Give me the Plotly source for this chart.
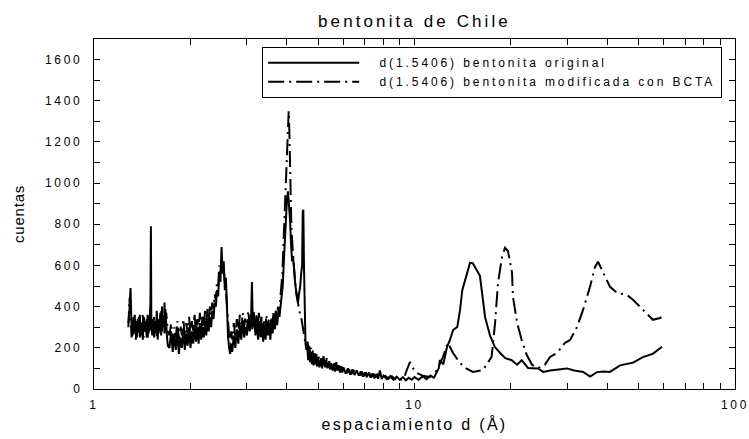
import plotly.graph_objects as go

# ---- data (d-spacing in Å, counts) ----
d_original = [
    1.28, 1.29, 1.30, 1.31, 1.32, 1.33, 1.34, 1.35, 1.36, 1.37, 1.38, 1.39, 1.40, 1.41, 1.42,
    1.43, 1.44, 1.45, 1.46, 1.47, 1.48, 1.49, 1.50, 1.505, 1.51, 1.52, 1.53, 1.54, 1.55, 1.56,
    1.57, 1.58, 1.59, 1.60, 1.61, 1.62, 1.63, 1.64, 1.65, 1.66, 1.67, 1.68, 1.69, 1.70,
    1.72, 1.74, 1.76, 1.78, 1.80, 1.82, 1.84, 1.86, 1.88, 1.90, 1.92, 1.94, 1.96, 1.98, 2.00,
    2.02, 2.04, 2.06, 2.08, 2.10, 2.12, 2.14, 2.16, 2.18, 2.20, 2.22, 2.24, 2.26, 2.28, 2.30,
    2.32, 2.34, 2.36, 2.38, 2.40, 2.42, 2.44, 2.46, 2.48, 2.50, 2.52, 2.54, 2.56, 2.58, 2.60,
    2.62, 2.64, 2.66, 2.68, 2.70,
    2.73, 2.76, 2.79, 2.82, 2.85, 2.88, 2.91, 2.94, 2.97, 3.00, 3.03, 3.06, 3.09, 3.11, 3.13,
    3.16, 3.19, 3.22, 3.25, 3.28, 3.31, 3.34, 3.37, 3.40, 3.43, 3.46, 3.49, 3.52, 3.55, 3.58,
    3.61, 3.64, 3.67, 3.70, 3.73, 3.76, 3.79, 3.82,
    3.85, 3.88, 3.92, 3.96, 4.00, 4.03, 4.06, 4.09, 4.12, 4.15, 4.18, 4.21, 4.24, 4.27, 4.30,
    4.33, 4.36, 4.40, 4.43, 4.46, 4.48, 4.50, 4.52, 4.54, 4.57, 4.60,
    4.63, 4.66, 4.69, 4.72, 4.75, 4.78, 4.81, 4.84, 4.87, 4.90, 4.93, 4.96,
    5.00, 5.05, 5.10, 5.15, 5.20, 5.25, 5.30, 5.35, 5.40, 5.45, 5.50, 5.55, 5.60, 5.65, 5.70,
    5.75, 5.80, 5.85, 5.90, 5.95, 6.00,
    6.1, 6.2, 6.3, 6.4, 6.5, 6.6, 6.7, 6.8, 6.9, 7.0, 7.1, 7.2, 7.3, 7.4, 7.5, 7.6, 7.7, 7.8,
    7.9, 8.0,
    8.2, 8.4, 8.6, 8.8, 9.0, 9.2, 9.4, 9.6, 9.8, 10.0,
    10.3, 10.6, 10.9, 11.2, 11.5,
    11.9, 12.0, 12.3, 12.63, 12.9, 13.2, 13.6, 13.87, 14.1, 14.6, 14.9, 15.2, 15.6, 16.0, 16.3,
    16.6, 17.2, 17.8, 18.5, 19.2, 20.1, 20.9, 21.6, 22.6, 24.3, 25.2, 26.5, 28.0, 29.9, 31.5,
    33.6, 35.3, 37.1, 39.0, 40.7, 43.8, 46.0, 48.1, 51.6, 55.5, 59.2,
]
cuentas_original = [
    320, 380, 490, 300, 260, 350, 280, 330, 250, 340, 290, 360, 260, 310, 240,
    350, 280, 330, 250, 360, 270, 320, 420, 790, 300, 260, 340, 250, 330, 270,
    380, 240, 320, 280, 370, 260, 400, 300, 360, 270, 390, 300, 250, 210,
    200, 280, 180, 260, 190, 280, 170, 250, 200, 290, 190, 270, 210, 300, 200,
    280, 220, 310, 230, 300, 220, 320, 240, 300, 250, 330, 260, 340, 280, 350,
    300, 380, 340, 420, 400, 480, 450, 560, 520, 690, 560, 620, 480, 540, 380,
    250, 200, 170, 220, 180,
    260, 200, 290, 220, 310, 240, 330, 250, 300, 260, 340, 280, 330, 520, 300,
    350, 260, 340, 240, 330, 250, 320, 230, 310, 240, 330, 260, 320, 240, 330,
    270, 350, 290, 360, 310, 380, 350, 400,
    420, 500, 650, 800, 920, 960, 900, 820, 700, 620, 640, 560, 520, 480, 450,
    420, 460, 500, 560, 600, 860, 870, 600, 300, 220, 190,
    200, 140, 210, 130, 180, 120, 170, 115, 160, 120, 165, 110,
    150, 105, 145, 100, 160, 110, 140, 100, 130, 95, 125, 90, 120, 85, 130,
    90, 115, 80, 110, 80, 105,
    75, 100, 70, 95, 68, 90, 65, 85, 60, 80, 58, 78, 55, 75, 52, 72, 50, 90,
    48, 65,
    48, 62, 45, 60, 44, 58, 42, 55, 45, 58,
    45, 62, 48, 65, 55,
    100, 140, 120, 204, 238, 287, 301, 384, 481, 564, 613, 611, 579, 550, 450,
    350, 260, 205, 175, 150, 140, 118, 140, 102, 100, 83, 90, 95, 100, 90,
    83, 60, 82, 85, 83, 115, 120, 128, 155, 172, 205,
]

d_modificada = [
    1.28, 1.29, 1.30, 1.31, 1.32, 1.33, 1.34, 1.35, 1.36, 1.37, 1.38, 1.39, 1.40, 1.41, 1.42,
    1.43, 1.44, 1.45, 1.46, 1.47, 1.48, 1.49, 1.50, 1.51, 1.52, 1.53, 1.54, 1.55, 1.56, 1.57,
    1.58, 1.59, 1.60, 1.61, 1.62, 1.63, 1.64, 1.65, 1.66, 1.67, 1.68, 1.69, 1.70,
    1.72, 1.74, 1.76, 1.78, 1.80, 1.82, 1.84, 1.86, 1.88, 1.90, 1.92, 1.94, 1.96, 1.98, 2.00,
    2.02, 2.04, 2.06, 2.08, 2.10, 2.12, 2.14, 2.16, 2.18, 2.20, 2.22, 2.24, 2.26, 2.28, 2.30,
    2.32, 2.34, 2.36, 2.38, 2.40, 2.42, 2.44, 2.46, 2.48, 2.50, 2.52, 2.54, 2.56, 2.58, 2.60,
    2.62, 2.64, 2.66, 2.68, 2.70,
    2.73, 2.76, 2.79, 2.82, 2.85, 2.88, 2.91, 2.94, 2.97, 3.00, 3.03, 3.06, 3.09, 3.12, 3.15,
    3.18, 3.21, 3.24, 3.27, 3.30, 3.33, 3.36, 3.39, 3.42, 3.45, 3.48, 3.51, 3.54, 3.57, 3.60,
    3.63, 3.66, 3.69, 3.72, 3.75, 3.78, 3.81, 3.84,
    3.87, 3.90, 3.93, 3.96, 3.99, 4.02, 4.05, 4.07, 4.09, 4.11, 4.13, 4.16, 4.19, 4.22, 4.25,
    4.28, 4.31, 4.34, 4.37, 4.40, 4.44, 4.48, 4.52, 4.56, 4.60,
    4.64, 4.67, 4.70, 4.73, 4.76, 4.79, 4.82, 4.85, 4.88, 4.91, 4.94, 4.97,
    5.02, 5.07, 5.12, 5.17, 5.22, 5.27, 5.32, 5.37, 5.42, 5.47, 5.52, 5.57, 5.62, 5.67, 5.72,
    5.77, 5.82, 5.87, 5.92, 5.97,
    6.05, 6.15, 6.25, 6.35, 6.45, 6.55, 6.65, 6.75, 6.85, 6.95, 7.05, 7.15, 7.25, 7.35, 7.45,
    7.55, 7.65, 7.75, 7.85, 7.95,
    8.1, 8.3, 8.5, 8.7, 8.9, 9.1, 9.3, 9.45,
    9.68, 9.90, 10.18, 10.6, 11.18, 11.76, 12.27, 12.72, 13.19, 13.87,
    14.5, 15.22, 16.36, 17.4, 17.84, 18.22, 18.75, 19.16, 19.57, 20.15, 20.29, 20.9, 21.6, 22.4, 23.3,
    24.3, 25.5, 26.47, 27.84, 29.49, 30.57, 32.14, 33.56, 35.28, 36.58, 37.38, 38.73, 40.74, 42.83, 46.03,
    48.05, 50.52, 53.13, 55.47, 58.34, 59.2,
]
cuentas_modificada = [
    300, 440, 360, 250, 330, 270, 360, 240, 320, 270, 350, 250, 330, 280, 370,
    250, 320, 270, 340, 240, 330, 280, 360, 290, 330, 260, 350, 280, 320, 250,
    340, 270, 350, 290, 380, 280, 360, 300, 420, 330, 370, 290, 280,
    260, 320, 230, 300, 250, 330, 240, 310, 260, 340, 250, 320, 270, 350, 260,
    330, 280, 360, 270, 340, 290, 370, 280, 350, 300, 380, 310, 390, 330, 400,
    360, 420, 390, 460, 430, 520, 500, 600, 560, 640, 600, 580, 520, 480, 400,
    300, 260, 220, 280, 240,
    320, 250, 340, 270, 360, 280, 370, 300, 350, 280, 380, 310, 360, 290, 380,
    300, 360, 270, 370, 290, 350, 260, 340, 280, 360, 290, 340, 270, 350, 300,
    370, 320, 380, 340, 400, 370, 440, 480,
    560, 700, 850, 1000, 1150, 1300, 1350, 1250, 1050, 900, 780, 700, 620, 560, 500,
    460, 430, 400, 380, 360, 340, 300, 260, 230, 210,
    230, 170, 215, 150, 200, 140, 190, 130, 175, 125, 170, 120,
    160, 115, 150, 110, 145, 105, 150, 100, 135, 100, 130, 95, 125, 90, 120,
    88, 115, 85, 110, 82,
    100, 78, 95, 72, 92, 70, 88, 66, 84, 62, 80, 60, 90, 58, 74,
    56, 70, 54, 68, 52,
    64, 50, 62, 48, 60, 46, 58, 90,
    131, 100, 78, 65, 58, 92, 156, 224, 175, 126,
    100, 83, 92, 156, 321, 515, 642, 686, 670, 564, 447, 321, 238, 165, 117,
    102, 117, 156, 175, 224, 238, 301, 384, 496, 593, 618, 564, 496, 467, 457,
    433, 399, 370, 336, 345, 350,
]

series_names = ["d(1.5406) bentonita original", "d(1.5406) bentonita modificada con BCTA"]

x_tick_vals = [1, 2, 3, 4, 5, 6, 7, 8, 9, 10, 20, 30, 40, 50, 60, 70, 80, 90, 100]
x_tick_labels = ["1", "", "", "", "", "", "", "", "", "10", "", "", "", "", "", "", "", "", "100"]
y_tick_vals = [0, 200, 400, 600, 800, 1000, 1200, 1400, 1600]
y_tick_labels = ["0", "200", "400", "600", "800", "1000", "1200", "1400", "1600"]
y_minor_vals = [100, 300, 500, 700, 900, 1100, 1300, 1500, 1700]

FONT = "Liberation Sans, Arial, Helvetica, sans-serif"


def spaced(text, px):
    if text == "":
        return ""
    return f'<span style="letter-spacing:{px}px">{text}</span>'


GAP = '<span style="letter-spacing:12px">&nbsp;</span>'

fig = go.Figure()
fig.add_trace(go.Scatter(
    x=d_original, y=cuentas_original, mode="lines",
    name=GAP + spaced(series_names[0], 2.9),
    line=dict(color="black", width=2.0),
))
fig.add_trace(go.Scatter(
    x=d_modificada, y=cuentas_modificada, mode="lines",
    name=GAP + spaced(series_names[1], 2.9),
    line=dict(color="black", width=2.0, dash="16px,5px,2px,5px"),
))

axis_common = dict(
    showline=True, linecolor="black", linewidth=1.2, mirror="allticks",
    ticks="inside", ticklen=6, tickcolor="black", tickwidth=1,
    showgrid=False, zeroline=False, automargin=False,
    ticklabeloverflow="allow",
    tickfont=dict(family=FONT, size=12, color="black"),
)

fig.update_xaxes(
    type="log", range=[0, 2],
    tickmode="array", tickvals=x_tick_vals,
    ticktext=[spaced(t, 2.7) for t in x_tick_labels],
    ticklabelstandoff=4,
    title=dict(text=spaced("espaciamiento d (Å)", 2.3),
               font=dict(family=FONT, size=16, color="black"), standoff=8),
    **axis_common,
)
fig.update_yaxes(
    range=[0, 1700],
    tickmode="array", tickvals=y_tick_vals,
    ticktext=[spaced(t, 2.7) for t in y_tick_labels],
    minor=dict(tickvals=y_minor_vals, ticks="inside", ticklen=6, tickcolor="black"),
    ticklabelstandoff=8,
    title=dict(text=spaced("cuentas", 0.8),
               font=dict(family=FONT, size=15, color="black"), standoff=16),
    **axis_common,
)

fig.update_layout(
    width=749, height=439,
    margin=dict(l=94, r=14, t=39, b=50),
    paper_bgcolor="white", plot_bgcolor="white",
    font=dict(family=FONT, color="black"),
    title=dict(text=spaced("bentonita de Chile", 3.1), x=0.5, xref="paper", xanchor="center",
               y=0.952, yanchor="middle",
               font=dict(family=FONT, size=17, color="black")),
    showlegend=True,
    legend=dict(x=0.9797, xanchor="right", y=0.977, yanchor="top",
                bordercolor="black", borderwidth=1.2, bgcolor="white",
                font=dict(family=FONT, size=12, color="black"),
                itemwidth=91, tracegroupgap=0),
)

fig.write_html("out.html", config={"displayModeBar": False},
               post_script="document.body.style.margin='0';")
